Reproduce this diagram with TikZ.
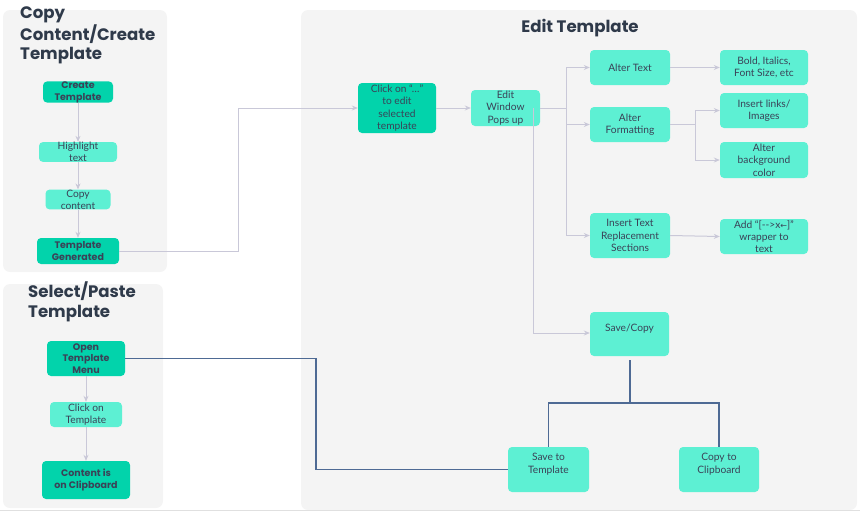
\documentclass[tikz,border=0pt]{standalone}
\usepackage{fontspec}
\setmainfont{Lato}
\newfontfamily\pop{Poppins}
\newfontfamily\djv{DejaVu Sans}
\usetikzlibrary{arrows.meta}
\definecolor{panelbg}{HTML}{F4F4F4}
\definecolor{darkteal}{HTML}{02D3AB}
\definecolor{lightteal}{HTML}{5DF0D3}
\definecolor{txt}{HTML}{3A4257}
\definecolor{title}{HTML}{2F3A4A}
\definecolor{arrowgray}{HTML}{C9C8D8}
\definecolor{navy}{HTML}{4E6A94}
\tikzset{
  panel/.style={fill=panelbg, draw=none, rounded corners=7pt},
  box/.style={rounded corners=4pt, draw=none, align=center, inner sep=0pt, text=txt, font=\fontsize{10.2}{12.3}\selectfont},
  dark/.style={box, fill=darkteal},
  darkb/.style={box, fill=darkteal, font=\pop\bfseries\fontsize{9.5}{11.8}\selectfont},
  light/.style={box, fill=lightteal},
  ttl/.style={text=title, font=\pop\bfseries\fontsize{16.6}{19.5}\selectfont, inner sep=0pt},
  arr/.style={draw=arrowgray, line width=1pt, -{Stealth[length=6pt,width=5pt]}},
  gline/.style={draw=arrowgray, line width=1pt},
  nline/.style={draw=navy, line width=1.2pt},
}
\begin{document}
\begin{tikzpicture}[x=1pt,y=-1pt]
\useasboundingbox (0,0) rectangle (868,512);
% panels
\fill[panel] (3,10) rectangle (167,272);
\fill[panel] (3,284) rectangle (163,508);
\fill[panel] (301,10) rectangle (857,510);
\draw[draw=black!12, line width=0.8pt] (0,510.5) -- (860,510.5);
% titles
\node[ttl, anchor=north west, align=left] (t1) at (20,7) {Copy\\Content/Create\\Template};
\node[ttl, anchor=north west, align=left] (t2) at (28,282) {Select/Paste\\Template};
\node[ttl] (t3) at (580,28) {Edit Template};
% panel 1
\node[darkb, minimum width=70, minimum height=18] (create) at (78,92) {Create\\Template};
\node[light, minimum width=78, minimum height=18] (highlight) at (78,152) {Highlight\\text};
\node[light, minimum width=65, minimum height=19] (copy) at (78,199.5) {Copy\\content};
\node[darkb, minimum width=82, minimum height=26] (generated) at (78,251) {Template\\Generated};
% panel 2
\node[darkb, minimum width=78, minimum height=35] (open) at (86,358.5) {Open\\Template\\Menu};
\node[light, minimum width=72, minimum height=25] (clickon) at (86,414.5) {Click on\\Template};
\node[darkb, minimum width=88, minimum height=38] (content) at (86,480) {Content is\\on Clipboard};
% panel 3
\node[dark, minimum width=78, minimum height=50] (clickedit) at (397,108) {Click on “…”\\to edit\\selected\\template};
\node[light, minimum width=69, minimum height=36] (editwin) at (505.5,108) {Edit\\Window\\Pops up};
\node[light, minimum width=80, minimum height=35] (altertext) at (630,67.5) {Alter Text};
\node[light, minimum width=80, minimum height=35] (alterfmt) at (630,124.5) {Alter\\Formatting};
\node[light, minimum width=80, minimum height=45] (inserttext) at (630,235.5) {Insert Text\\Replacement\\Sections};
\node[light, minimum width=88, minimum height=35] (bold) at (764,67.5) {Bold, Italics,\\Font Size, etc};
\node[light, minimum width=88, minimum height=35] (links) at (764,110.5) {Insert links/\\Images};
\node[light, minimum width=88, minimum height=36] (bg) at (764,160) {Alter\\background\\color};
\node[light, minimum width=88, minimum height=35] (add) at (764,236.5) {Add “[-{}->x{\djv\fontsize{8}{10}\selectfont ←}]”\\wrapper to\\text};
\node[light, minimum width=79, minimum height=44] (save) at (629.5,334) {Save/Copy\\\mbox{}};
\node[light, minimum width=81, minimum height=45] (savetmpl) at (548.5,469.5) {Save to\\Template\\\mbox{}};
\node[light, minimum width=80, minimum height=45] (copyclip) at (719,469.5) {Copy to\\Clipboard\\\mbox{}};
% coordinates
\coordinate (j1) at (238,251);
\coordinate (j2) at (238,108);
\coordinate (e1) at (566,108);
\coordinate (f1) at (695,124.5);
\coordinate (s1) at (630,360);
\coordinate (s2) at (630,403);
\coordinate (o1) at (316,358.5);
\coordinate (o2) at (316,469.5);
% panel 1 arrows
\draw[arr] (create) -- (highlight);
\draw[arr] (highlight) -- (copy);
\draw[arr] (copy) -- (generated);
\draw[arr] (clickon.north |- open.south) -- (clickon);
\draw[arr] (clickon) -- (content);
% to edit
\draw[arr] (generated.east) -- (j1) -- (j2) -- (clickedit.west);
\draw[arr] (clickedit) -- (editwin);
\draw[gline] (editwin.east) -- (e1);
\draw[gline] (e1 |- altertext.west) -- (e1 |- inserttext.west);
\draw[arr] (e1 |- altertext.west) -- (altertext.west);
\draw[arr] (e1 |- alterfmt.west) -- (alterfmt.west);
\draw[arr] (e1 |- inserttext.west) -- (inserttext.west);
\draw[arr] (533,108) -- (533,333) -- (save.west |- 0,333);
\draw[arr] (altertext) -- (bold);
\draw[gline] (alterfmt.east) -- (f1);
\draw[gline] (f1 |- links.west) -- (f1 |- bg.west);
\draw[arr] (f1 |- links.west) -- (links.west);
\draw[arr] (f1 |- bg.west) -- (bg.west);
\draw[arr] (inserttext.east) -- (add.west);
% save tree
\draw[nline] (s1) -- (s2);
\draw[nline] (savetmpl.north) -- (savetmpl.north |- s2) -- (copyclip.north |- s2) -- (copyclip.north);
\draw[nline] (open.east) -- (o1) -- (o2) -- (savetmpl.west);
\end{tikzpicture}
\end{document}
